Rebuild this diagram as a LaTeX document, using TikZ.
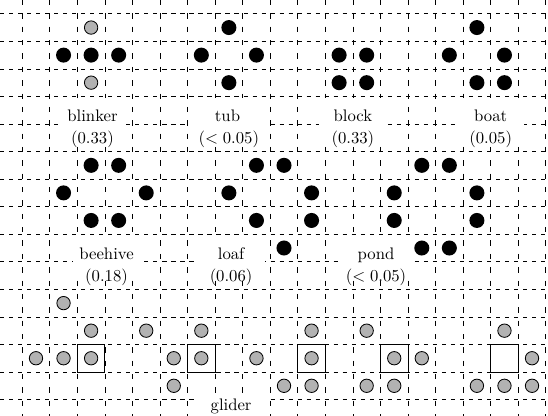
\documentclass[tikz,border=0pt]{standalone}
\definecolor{ghostgray}{gray}{0.70}
\begin{document}
\begin{tikzpicture}[x=16.5pt,y=16.5pt,
  gridh/.style={line width=0.45pt, dash pattern=on 2.5pt off 2.9pt},
  gridv/.style={line width=0.45pt, dash pattern=on 3.2pt off 4.8pt},
  live/.style={circle, fill=black, inner sep=0pt, minimum size=9pt},
  ghost/.style={circle, fill=ghostgray, draw=black, line width=0.5pt, inner sep=0pt, minimum size=8pt},
  cellbox/.style={rectangle, draw=black, line width=0.6pt, minimum size=16.5pt, inner sep=0pt},
  namelbl/.style={rectangle, fill=white, anchor=base, inner xsep=3pt, inner ysep=0pt,
                  text height=14pt, text depth=11.5pt, minimum width=40pt},
  problbl/.style={anchor=base, inner sep=0pt},
  glbl/.style={rectangle, fill=white, anchor=base, inner xsep=3pt, inner ysep=0pt,
               text height=7.8pt, text depth=10pt, minimum width=42pt}
]
\useasboundingbox (-0.806,0.50) rectangle (19.08,-14.59);
% grid
\foreach \i in {0,...,19} \draw[gridv] (\i,0.50) -- (\i,-14.59);
\foreach \j in {0,...,14} \draw[gridh] (-0.806,-\j) -- (19.08,-\j);

% labels (white boxes first)
\node[namelbl] (lblinker) at (2.55,-3.91) {blinker};
\node[namelbl, minimum width=46pt] (ltub) at (7.45,-3.91) {tub};
\node[namelbl] (lblock) at (12.0,-3.91) {block};
\node[namelbl] (lboat) at (17.0,-3.91) {boat};
\node[namelbl] (lbeehive) at (3.06,-8.91) {beehive};
\node[namelbl] (lloaf) at (7.58,-8.91) {loaf};
\node[namelbl, minimum width=46pt] (lpond) at (12.84,-8.91) {pond};
\node[glbl] (lglider) at (7.58,-14.41) {glider};

\node[problbl] (pblinker) at (2.55,-4.70) {$(0.33)$};
\node[problbl] (ptub) at (7.5,-4.70) {$(<0.05)$};
\node[problbl] (pblock) at (12.0,-4.70) {$(0.33)$};
\node[problbl] (pboat) at (17.0,-4.70) {$(0.05)$};
\node[problbl] (pbeehive) at (3.06,-9.70) {$(0.18)$};
\node[problbl] (ploaf) at (7.58,-9.70) {$(0.06)$};
\node[problbl] (ppond) at (12.84,-9.70) {$(<0.05)$};

% blinker
\node[ghost] (bl1) at (2.5,-0.5) {};
\node[ghost] (bl2) at (2.5,-2.5) {};
\foreach \c [count=\i] in {1,2,3} \node[live] (blk\i) at (\c+0.5,-1.5) {};

% tub
\foreach \c/\r [count=\i] in {7/0,6/1,8/1,7/2}
  \node[live] (tub\i) at (\c+0.5,-\r-0.5) {};

% block
\foreach \c/\r [count=\i] in {11/1,12/1,11/2,12/2}
  \node[live] (block\i) at (\c+0.5,-\r-0.5) {};

% boat
\foreach \c/\r [count=\i] in {16/0,15/1,17/1,16/2,17/2}
  \node[live] (boat\i) at (\c+0.5,-\r-0.5) {};

% beehive
\foreach \c/\r [count=\i] in {2/5,3/5,1/6,4/6,2/7,3/7}
  \node[live] (bee\i) at (\c+0.5,-\r-0.5) {};

% loaf
\foreach \c/\r [count=\i] in {8/5,9/5,7/6,10/6,8/7,10/7,9/8}
  \node[live] (loaf\i) at (\c+0.5,-\r-0.5) {};

% pond
\foreach \c/\r [count=\i] in {14/5,15/5,13/6,16/6,13/7,16/7,14/8,15/8}
  \node[live] (pond\i) at (\c+0.5,-\r-0.5) {};

% glider boxes
\foreach \c [count=\i] in {2,6,10,13,17}
  \node[cellbox] (gbox\i) at (\c+0.5,-12.5) {};

% glider phases
\foreach \c/\r [count=\i] in {1/10,2/11,0/12,1/12,2/12,
                              4/11,6/11,5/12,6/12,5/13,
                              10/11,8/12,10/12,9/13,10/13,
                              12/11,13/12,14/12,12/13,13/13,
                              17/11,18/12,16/13,17/13,18/13}
  \node[ghost] (gl\i) at (\c+0.5,-\r-0.5) {};
\end{tikzpicture}
\end{document}
